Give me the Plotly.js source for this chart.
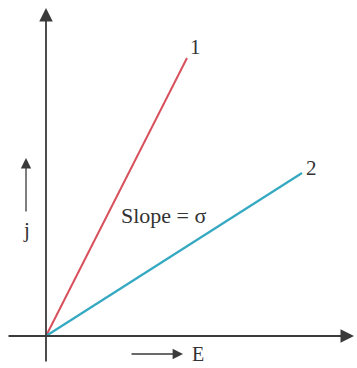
<!DOCTYPE html>
<html>
<head>
<meta charset="utf-8">
<script src="https://cdn.plot.ly/plotly-3.0.1.min.js"></script>
<style>
  html, body { margin: 0; padding: 0; background: #fff; }
  #plot { width: 357px; height: 368px; }
</style>
</head>
<body>
<div id="plot"></div>
<script>
// field strength E and current density j for the two conductors
const E1 = [0, 141];
const j1 = [0, 278];
const E2 = [0, 256];
const j2 = [0, 163];
const lineLabels = ['1', '2'];

const axisColor = '#3a3a3a';
const serif = 'Liberation Serif, Times New Roman, serif';

const trace1 = {
    x: E1,
    y: j1,
    mode: 'lines',
    type: 'scatter',
    name: lineLabels[0],
    line: { color: '#d8505c', width: 2 },
    hoverinfo: 'skip'
};

const trace2 = {
    x: E2,
    y: j2,
    mode: 'lines',
    type: 'scatter',
    name: lineLabels[1],
    line: { color: '#34a9c1', width: 2.2 },
    hoverinfo: 'skip'
};

// arrow helper: tip at (x, y), tail at (ax, ay), all in data units
function arrow(x, y, ax, ay, width, size) {
    return {
        x: x, y: y, ax: ax, ay: ay,
        xref: 'x', yref: 'y', axref: 'x', ayref: 'y',
        text: '', showarrow: true,
        arrowhead: 2, arrowsize: size, arrowwidth: width,
        arrowcolor: axisColor, standoff: 0, startstandoff: 0
    };
}

function label(x, y, text, size) {
    return {
        x: x, y: y, xref: 'x', yref: 'y',
        text: text, showarrow: false,
        font: { family: serif, size: size, color: '#333' }
    };
}

const annotations = [
    arrow(0, 328, 0, -27, 1.8, 1.5),     // j axis
    arrow(308, 0, -39, 0, 1.8, 1.5),     // E axis
    arrow(-20, 178, -20, 123, 1.3, 1.6), // j direction
    arrow(137, -18, 84, -18, 1.3, 1.6),  // E direction
    label(E1[1] + 8, j1[1] + 11, lineLabels[0], 21),
    label(E2[1] + 9, j2[1] + 5, lineLabels[1], 21),
    label(118, 121, 'Slope = σ', 22),
    label(-20, 106, 'j', 21),
    label(152, -18, 'E', 20)
];

const layout = {
    width: 357,
    height: 368,
    margin: { l: 0, r: 0, t: 0, b: 0 },
    paper_bgcolor: '#fff',
    plot_bgcolor: '#fff',
    showlegend: false,
    xaxis: { range: [-46, 311], visible: false, fixedrange: true },
    yaxis: { range: [-32, 336], visible: false, fixedrange: true },
    annotations: annotations
};

Plotly.newPlot('plot', [trace1, trace2], layout, { displayModeBar: false, staticPlot: true });
</script>
</body>
</html>
